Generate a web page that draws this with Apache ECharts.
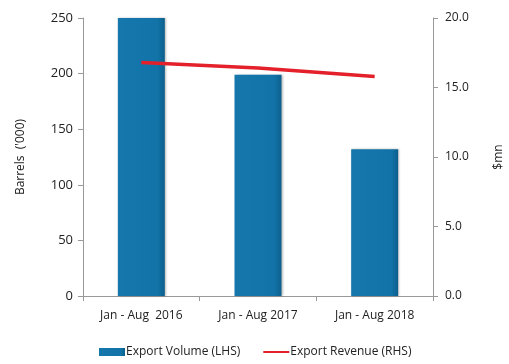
<!DOCTYPE html>
<html>
<head>
<meta charset="utf-8">
<script src="https://cdn.jsdelivr.net/npm/echarts@6/dist/echarts.min.js"></script>
<style>
  html, body { margin: 0; padding: 0; background: #fff; }
  #chart { width: 509px; height: 364px; }
</style>
</head>
<body>
<div id="chart"></div>
<script>
const categories = ['Jan - Aug  2016', 'Jan - Aug 2017', 'Jan - Aug 2018'];
const volume = [265, 199, 132];
const revenue = [16.8, 16.4, 15.8];
const leftTicks = { min: 0, max: 250, interval: 50 };
const rightTicks = { min: 0, max: 20, interval: 5 };

const font = 'Open Sans';
const chart = echarts.init(document.getElementById('chart'));

chart.setOption({
  animation: false,
  textStyle: { fontFamily: font },
  grid: { left: 83, right: 76, top: 18, bottom: 68, outerBoundsMode: 'none' },
  legend: {
    bottom: 1,
    left: 94,
    itemGap: 22,
    itemWidth: 26,
    itemHeight: 8,
    textStyle: { fontFamily: font, fontSize: 12, color: '#222', padding: [0, 0, 0, -4] },
    data: [
      { name: 'Export Volume (LHS)', icon: 'rect' },
      { name: 'Export Revenue (RHS)', itemStyle: { opacity: 0 } }
    ]
  },
  xAxis: {
    type: 'category',
    data: categories,
    axisLine: { lineStyle: { color: '#999' } },
    axisTick: { show: true, alignWithLabel: false, length: 5, lineStyle: { color: '#999' } },
    axisLabel: { color: '#222', fontSize: 12, margin: 14 }
  },
  yAxis: [
    {
      type: 'value',
      min: leftTicks.min, max: leftTicks.max, interval: leftTicks.interval,
      name: "Barrels  ('000)",
      nameLocation: 'middle',
      nameGap: 56,
      nameTextStyle: { color: '#222', fontSize: 12 },
      axisLine: { show: true, lineStyle: { color: '#999' } },
      axisTick: { show: true, length: 5, lineStyle: { color: '#999' } },
      splitLine: { show: false },
      axisLabel: { color: '#222', fontSize: 13, margin: 10 }
    },
    {
      type: 'value',
      position: 'right',
      min: rightTicks.min, max: rightTicks.max, interval: rightTicks.interval,
      name: '$mn',
      nameLocation: 'middle',
      nameGap: 60,
      nameRotate: 90,
      nameTextStyle: { color: '#222', fontSize: 12 },
      axisLine: { show: true, lineStyle: { color: '#999' } },
      axisTick: { show: true, length: 5, lineStyle: { color: '#999' } },
      splitLine: { show: false },
      axisLabel: {
        color: '#222', fontSize: 12, margin: 12,
        formatter: v => v.toFixed(1)
      }
    }
  ],
  series: [
    {
      name: 'Export Volume (LHS)',
      type: 'bar',
      data: volume,
      barWidth: 47,
      clip: true,
      itemStyle: {
        color: new echarts.graphic.LinearGradient(0, 0, 1, 0, [
          { offset: 0, color: '#1677ad' },
          { offset: 0.85, color: '#1173a8' },
          { offset: 1, color: '#0d5f8c' }
        ]),
        shadowColor: 'rgba(0,0,0,0.25)',
        shadowBlur: 2,
        shadowOffsetX: 1
      }
    },
    {
      name: 'Export Revenue (RHS)',
      type: 'line',
      yAxisIndex: 1,
      data: revenue,
      symbol: 'none',
      lineStyle: { color: '#e4202a', width: 3.5 },
      itemStyle: { color: '#e4202a' }
    }
  ]
});
</script>
</body>
</html>
